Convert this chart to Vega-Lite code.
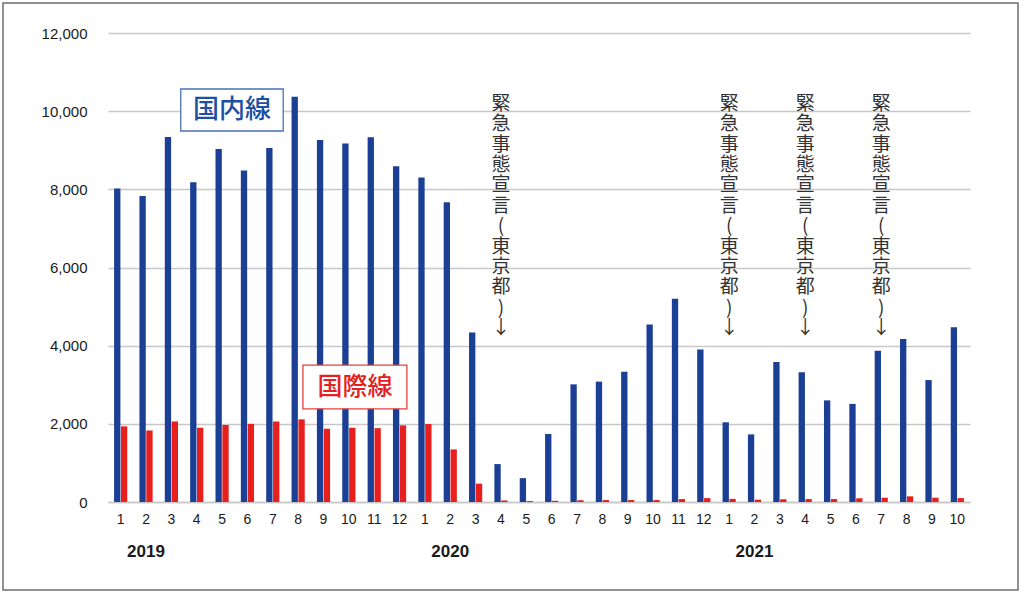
{
  "$schema": "https://vega.github.io/schema/vega-lite/v6.json",
  "width": 1015,
  "height": 587,
  "autosize": {"type": "none"},
  "padding": {"left": 3, "top": 3, "right": 6, "bottom": 5},
  "datasets": {
    "flights": [
      {"m": "2019-01", "s": "国内線", "v": 8020}, {"m": "2019-01", "s": "国際線", "v": 1935},
      {"m": "2019-02", "s": "国内線", "v": 7830}, {"m": "2019-02", "s": "国際線", "v": 1830},
      {"m": "2019-03", "s": "国内線", "v": 9340}, {"m": "2019-03", "s": "国際線", "v": 2060},
      {"m": "2019-04", "s": "国内線", "v": 8180}, {"m": "2019-04", "s": "国際線", "v": 1900},
      {"m": "2019-05", "s": "国内線", "v": 9030}, {"m": "2019-05", "s": "国際線", "v": 1970},
      {"m": "2019-06", "s": "国内線", "v": 8480}, {"m": "2019-06", "s": "国際線", "v": 2000},
      {"m": "2019-07", "s": "国内線", "v": 9060}, {"m": "2019-07", "s": "国際線", "v": 2060},
      {"m": "2019-08", "s": "国内線", "v": 10370}, {"m": "2019-08", "s": "国際線", "v": 2115},
      {"m": "2019-09", "s": "国内線", "v": 9260}, {"m": "2019-09", "s": "国際線", "v": 1875},
      {"m": "2019-10", "s": "国内線", "v": 9170}, {"m": "2019-10", "s": "国際線", "v": 1900},
      {"m": "2019-11", "s": "国内線", "v": 9330}, {"m": "2019-11", "s": "国際線", "v": 1890},
      {"m": "2019-12", "s": "国内線", "v": 8590}, {"m": "2019-12", "s": "国際線", "v": 1960},
      {"m": "2020-01", "s": "国内線", "v": 8300}, {"m": "2020-01", "s": "国際線", "v": 1995},
      {"m": "2020-02", "s": "国内線", "v": 7670}, {"m": "2020-02", "s": "国際線", "v": 1345},
      {"m": "2020-03", "s": "国内線", "v": 4340}, {"m": "2020-03", "s": "国際線", "v": 470},
      {"m": "2020-04", "s": "国内線", "v": 970}, {"m": "2020-04", "s": "国際線", "v": 40},
      {"m": "2020-05", "s": "国内線", "v": 610}, {"m": "2020-05", "s": "国際線", "v": 25},
      {"m": "2020-06", "s": "国内線", "v": 1740}, {"m": "2020-06", "s": "国際線", "v": 30},
      {"m": "2020-07", "s": "国内線", "v": 3010}, {"m": "2020-07", "s": "国際線", "v": 45},
      {"m": "2020-08", "s": "国内線", "v": 3080}, {"m": "2020-08", "s": "国際線", "v": 50},
      {"m": "2020-09", "s": "国内線", "v": 3330}, {"m": "2020-09", "s": "国際線", "v": 50},
      {"m": "2020-10", "s": "国内線", "v": 4540}, {"m": "2020-10", "s": "国際線", "v": 50},
      {"m": "2020-11", "s": "国内線", "v": 5200}, {"m": "2020-11", "s": "国際線", "v": 75},
      {"m": "2020-12", "s": "国内線", "v": 3900}, {"m": "2020-12", "s": "国際線", "v": 100},
      {"m": "2021-01", "s": "国内線", "v": 2040}, {"m": "2021-01", "s": "国際線", "v": 80},
      {"m": "2021-02", "s": "国内線", "v": 1730}, {"m": "2021-02", "s": "国際線", "v": 60},
      {"m": "2021-03", "s": "国内線", "v": 3580}, {"m": "2021-03", "s": "国際線", "v": 70},
      {"m": "2021-04", "s": "国内線", "v": 3320}, {"m": "2021-04", "s": "国際線", "v": 75},
      {"m": "2021-05", "s": "国内線", "v": 2600}, {"m": "2021-05", "s": "国際線", "v": 75},
      {"m": "2021-06", "s": "国内線", "v": 2510}, {"m": "2021-06", "s": "国際線", "v": 95},
      {"m": "2021-07", "s": "国内線", "v": 3870}, {"m": "2021-07", "s": "国際線", "v": 110},
      {"m": "2021-08", "s": "国内線", "v": 4170}, {"m": "2021-08", "s": "国際線", "v": 145},
      {"m": "2021-09", "s": "国内線", "v": 3120}, {"m": "2021-09", "s": "国際線", "v": 110},
      {"m": "2021-10", "s": "国内線", "v": 4470}, {"m": "2021-10", "s": "国際線", "v": 100}
    ],
    "years": [
      {"m": "2019-02", "year": "2019"},
      {"m": "2020-02", "year": "2020"},
      {"m": "2021-02", "year": "2021"}
    ],
    "declarations": [
      {"m": "2020-04"}, {"m": "2021-01"}, {"m": "2021-04"}, {"m": "2021-07"}
    ]
  },
  "layer": [
    {
      "data": {"name": "flights"},
      "mark": "bar",
      "encoding": {
        "x": {
          "field": "m",
          "type": "nominal",
          "scale": {"range": [105, 967], "paddingInner": 0.48, "paddingOuter": 0.24},
          "axis": {
            "title": null,
            "orient": "bottom",
            "offset": -88,
            "labelAngle": 0,
            "labelExpr": "'' + toNumber(slice(datum.value, 5))",
            "labelFontSize": 14,
            "labelColor": "#1a1a1a",
            "labelPadding": 10,
            "ticks": false,
            "tickSize": 0,
            "domainColor": "#c8c8c8",
            "domainWidth": 1.5,
            "grid": false
          }
        },
        "xOffset": {
          "field": "s",
          "scale": {"domain": ["国内線", "国際線"], "paddingInner": 0.08, "paddingOuter": 0}
        },
        "y": {
          "field": "v",
          "type": "quantitative",
          "scale": {"domain": [0, 12000], "range": [499, 30], "nice": false},
          "axis": {
            "title": null,
            "orient": "left",
            "offset": -86,
            "values": [0, 2000, 4000, 6000, 8000, 10000, 12000],
            "format": ",.0f",
            "labelFontSize": 15,
            "labelColor": "#1a1a1a",
            "labelPadding": 2,
            "ticks": false,
            "tickSize": 0,
            "domain": false,
            "grid": true,
            "gridColor": "#c8c8c8",
            "gridWidth": 1.3
          }
        },
        "color": {
          "field": "s",
          "type": "nominal",
          "scale": {"domain": ["国内線", "国際線"], "range": ["#1a3f94", "#e8201d"]},
          "legend": null
        }
      }
    },
    {
      "data": {"name": "years"},
      "mark": {"type": "text", "font": "Liberation Sans", "fontSize": 17, "fontWeight": "bold", "color": "#1a1a1a", "baseline": "middle"},
      "encoding": {
        "x": {"field": "m", "type": "nominal"},
        "y": {"datum": -1290, "type": "quantitative"},
        "text": {"field": "year"}
      }
    },
    {
      "data": {"name": "declarations"},
      "mark": {
        "type": "text",
        "font": "Noto Sans CJK JP",
        "fontSize": 19,
        "lineHeight": 20.4,
        "color": "#333333",
        "baseline": "top",
        "align": "center",
        "text": ["緊", "急", "事", "態", "宣", "言", "(", "東", "京", "都", ")", "↓"]
      },
      "encoding": {
        "x": {"field": "m", "type": "nominal"},
        "y": {"datum": 10420, "type": "quantitative"}
      }
    },
    {
      "data": {"values": [{"m": "2019-05", "label": "国内線", "v": 10030}]},
      "encoding": {
        "x": {"field": "m", "type": "nominal", "bandPosition": 1.25},
        "y": {"field": "v", "type": "quantitative"}
      },
      "layer": [
        {
          "mark": {"type": "point", "shape": "M-1,-0.41L1,-0.41L1,0.41L-1,0.41Z", "size": 10500, "filled": false, "fill": "white", "fillOpacity": 1, "stroke": "#4a70b8", "strokeWidth": 1.3, "opacity": 1}
        },
        {
          "mark": {"type": "text", "font": "Noto Sans CJK JP", "fontSize": 26, "fontWeight": 500, "color": "#1d4fa3", "baseline": "middle", "align": "center"},
          "encoding": {"text": {"field": "label"}}
        }
      ]
    },
    {
      "data": {"values": [{"m": "2019-10", "label": "国際線", "v": 2942}]},
      "encoding": {
        "x": {"field": "m", "type": "nominal", "bandPosition": 0.96},
        "y": {"field": "v", "type": "quantitative"}
      },
      "layer": [
        {
          "mark": {"type": "point", "shape": "M-1,-0.42L1,-0.42L1,0.42L-1,0.42Z", "size": 10816, "filled": false, "fill": "white", "fillOpacity": 1, "stroke": "#e8413d", "strokeWidth": 1.3, "opacity": 1}
        },
        {
          "mark": {"type": "text", "font": "Noto Sans CJK JP", "fontSize": 25, "fontWeight": 500, "color": "#e62020", "baseline": "middle", "align": "center"},
          "encoding": {"text": {"field": "label"}}
        }
      ]
    }
  ],
  "config": {
    "view": {"stroke": "#6e6e6e", "strokeWidth": 1.5},
    "font": "Liberation Sans",
    "axis": {"labelFont": "Liberation Sans"}
  }
}
